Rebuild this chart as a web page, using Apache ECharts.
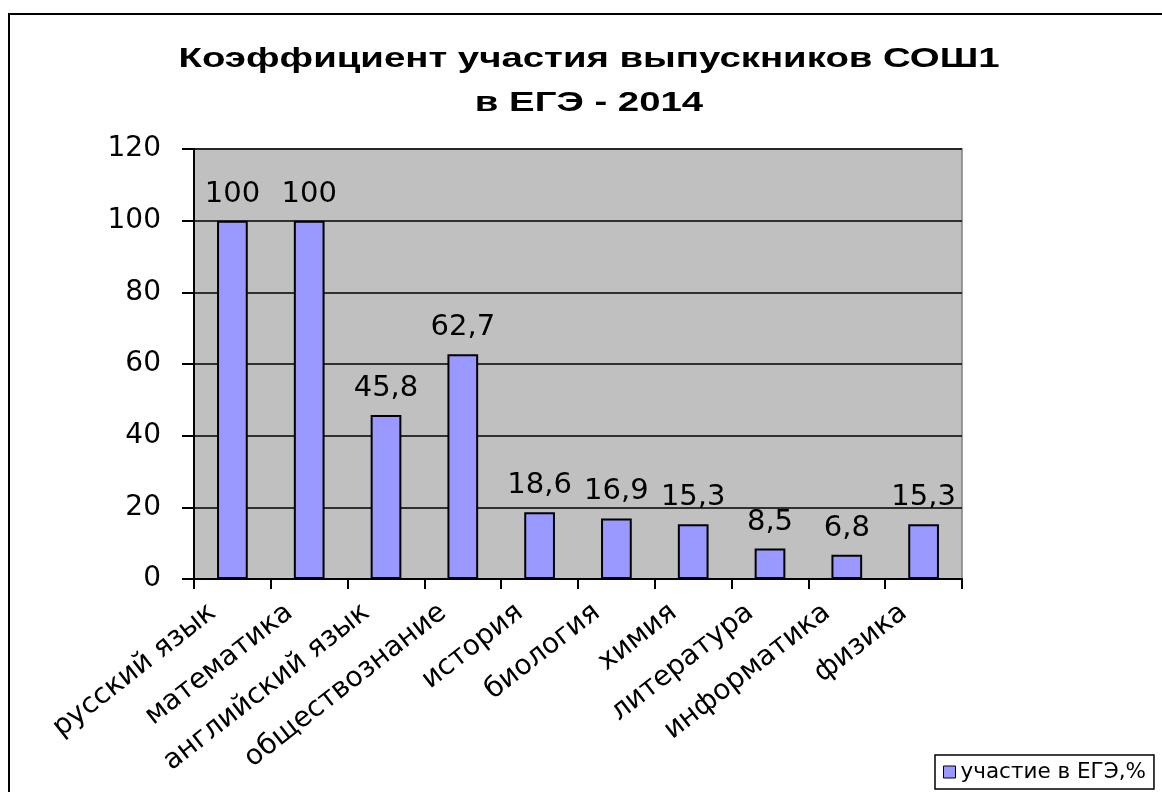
<!DOCTYPE html>
<html>
<head>
<meta charset="utf-8">
<script src="https://cdn.jsdelivr.net/npm/echarts@6/dist/echarts.min.js"></script>
<style>
html,body{margin:0;padding:0;background:#fff;}
#c{width:1162px;height:792px;}
</style>
</head>
<body>
<div id="c"></div>
<script>
const categories = ['русский язык','математика','английский язык','обществознание','история','биология','химия','литература','информатика','физика'];
const values = [100, 100, 45.8, 62.7, 18.6, 16.9, 15.3, 8.5, 6.8, 15.3];
const seriesName = 'участие в ЕГЭ,%';
const titleText = 'Коэффициент участия выпускников СОШ1\nв ЕГЭ - 2014';

const chart = echarts.init(document.getElementById('c'));
const font = '"DejaVu Sans", "Liberation Sans", sans-serif';
const titleFont = '"Liberation Sans", Arial, sans-serif';
chart.setOption({
  backgroundColor: '#fff',
  animation: false,
  graphic: [{
    type: 'rect', silent: true, z: -1,
    shape: {x: 9, y: 14, width: 1300, height: 1000},
    style: {fill: 'none', stroke: '#000', lineWidth: 2}
  }, {
    type: 'text', silent: true,
    x: 589, y: 37, scaleX: 1.37,
    style: {
      text: titleText, x: 0, y: 0, align: 'center', verticalAlign: 'top',
      font: 'bold 28px ' + titleFont, lineHeight: 44, fill: '#000'
    }
  }],
  grid: {
    left: 194, right: 200, top: 149, bottom: 213,
    show: true, backgroundColor: '#C0C0C0', borderColor: '#808080', borderWidth: 1.5
  },
  legend: {
    left: 935, top: 755,
    data: [seriesName],
    icon: 'rect', itemWidth: 12, itemHeight: 12, itemGap: 6,
    padding: [6, 8, 6, 8],
    borderColor: '#000', borderWidth: 1.5,
    textStyle: {fontFamily: font, fontSize: 21.5, color: '#000'},
    itemStyle: {borderColor: '#000', borderWidth: 1}
  },
  xAxis: {
    type: 'category', data: categories,
    axisLine: {lineStyle: {color: '#000', width: 2}},
    axisTick: {show: true, length: 10, lineStyle: {color: '#000', width: 2}},
    axisLabel: {rotate: 38, fontFamily: font, fontSize: 28, color: '#000', margin: 15, interval: 0, padding: [0, 25, 0, 0]}
  },
  yAxis: {
    type: 'value', min: 0, max: 120, interval: 20,
    axisLine: {show: true, lineStyle: {color: '#000', width: 2}},
    axisTick: {show: true, length: 12, lineStyle: {color: '#000', width: 2}},
    splitLine: {lineStyle: {color: '#000', width: 1.5}},
    axisLabel: {fontFamily: font, fontSize: 28, color: '#000', margin: 33}
  },
  series: [{
    name: seriesName, type: 'bar', data: values,
    barWidth: '40%',
    itemStyle: {color: '#9999FF', borderColor: '#000', borderWidth: 2},
    label: {
      show: true, position: 'top', distance: 12,
      fontFamily: font, fontSize: 29, color: '#000',
      formatter: p => String(p.value).replace('.', ',')
    }
  }]
});
</script>
</body>
</html>
